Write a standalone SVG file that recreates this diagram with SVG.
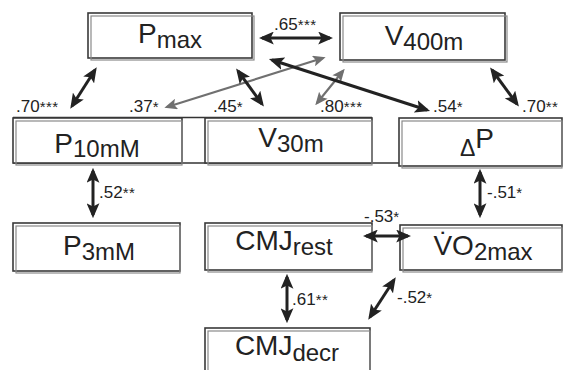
<svg xmlns="http://www.w3.org/2000/svg" width="565" height="370" viewBox="0 0 565 370">
<style>
  .box-o { fill: #fff; stroke: #3a3a3a; stroke-width: 1.6; }
  .box-i { fill: none; stroke: #8a8a8a; stroke-width: 1.2; }
  .lbl { font-family: "Liberation Sans", Arial, sans-serif; font-size: 28px; fill: #222; }
  .sub { font-size: 24px; }
  .r { font-family: "Liberation Sans", Arial, sans-serif; font-size: 17px; fill: #222; }
  .st { font-size: 15px; letter-spacing: 0.5px; }
  .dk { stroke: #222; stroke-width: 3; fill: none; marker-start: url(#hd); marker-end: url(#hd); }
  .gy { stroke: #707070; stroke-width: 2.2; fill: none; marker-start: url(#hg); marker-end: url(#hg); }
  .rule { stroke: #333; stroke-width: 1.4; }
</style>
<defs>
  <marker id="hd" viewBox="0 0 14 12" refX="11" refY="6" markerWidth="15" markerHeight="13" markerUnits="userSpaceOnUse" orient="auto-start-reverse">
    <path d="M0,0 L14,6 L0,12 L3,6 z" fill="#222"/>
  </marker>
  <marker id="hg" viewBox="0 0 14 12" refX="11" refY="6" markerWidth="13" markerHeight="11" markerUnits="userSpaceOnUse" orient="auto-start-reverse">
    <path d="M0,0 L14,6 L0,12 L3,6 z" fill="#707070"/>
  </marker>
</defs>
<rect width="565" height="370" fill="#fff"/>

<g id="rules">
  <line class="rule" x1="13" y1="117.5" x2="372" y2="117.5"/>
  <line class="rule" x1="13" y1="163" x2="399" y2="163"/>
</g>

<g id="Pmax">
  <rect class="box-o" x="88" y="13" width="164" height="45"/>
  <rect class="box-i" x="91" y="16" width="163" height="44"/>
  <text class="lbl" x="170" y="43" text-anchor="middle">P<tspan class="sub" dy="5">max</tspan></text>
</g>
<g id="V400m">
  <rect class="box-o" x="340" y="13" width="165" height="47"/>
  <rect class="box-i" x="343" y="16" width="164" height="46"/>
  <text class="lbl" x="424" y="45" text-anchor="middle">V<tspan class="sub" dy="5">400m</tspan></text>
</g>
<g id="P10mM">
  <rect class="box-o" x="13" y="118" width="169" height="45"/>
  <rect class="box-i" x="16" y="121" width="166" height="44"/>
  <text class="lbl" x="97" y="153" text-anchor="middle">P<tspan class="sub" dy="4">10mM</tspan></text>
</g>
<g id="V30m">
  <rect class="box-o" x="205" y="118" width="167" height="45"/>
  <rect class="box-i" x="208" y="121" width="164" height="44"/>
  <text class="lbl" x="291" y="147" text-anchor="middle">V<tspan class="sub" dy="5">30m</tspan></text>
</g>
<g id="dP">
  <rect class="box-o" x="399" y="118" width="163" height="48"/>
  <rect class="box-i" x="402" y="121" width="160" height="47"/>
  <text class="lbl" x="477" y="156" text-anchor="middle"><tspan font-size="23">Δ</tspan><tspan dy="-8">P</tspan></text>
</g>
<g id="P3mM">
  <rect class="box-o" x="13" y="223" width="167" height="48"/>
  <rect class="box-i" x="16" y="226" width="164" height="47"/>
  <text class="lbl" x="99" y="255" text-anchor="middle">P<tspan class="sub" dy="5">3mM</tspan></text>
</g>
<g id="CMJrest">
  <rect class="box-o" x="205" y="223" width="167" height="47"/>
  <rect class="box-i" x="208" y="226" width="164" height="46"/>
  <text class="lbl" x="284" y="250" text-anchor="middle">CMJ<tspan class="sub" dy="5">rest</tspan></text>
</g>
<g id="VO2max">
  <rect class="box-o" x="400" y="225" width="162" height="45"/>
  <rect class="box-i" x="403" y="228" width="159" height="44"/>
  <text class="lbl" x="483" y="255" text-anchor="middle">V̇O<tspan class="sub" dy="5">2max</tspan></text>
</g>
<g id="CMJdecr">
  <rect class="box-o" x="205" y="328" width="165" height="50"/>
  <rect class="box-i" x="208" y="331" width="162" height="49"/>
  <text class="lbl" x="287" y="355" text-anchor="middle">CMJ<tspan class="sub" dy="6">decr</tspan></text>
</g>

<g id="connectors">
  <line class="dk" x1="262" y1="38" x2="330" y2="38"/>
  <line class="dk" x1="95" y1="70" x2="72" y2="106"/>
  <line class="gy" x1="167" y1="107" x2="323" y2="58"/>
  <line class="dk" x1="238" y1="71" x2="262" y2="104"/>
  <line class="gy" x1="343" y1="71" x2="317" y2="103"/>
  <line class="dk" x1="272" y1="60" x2="427" y2="110"/>
  <line class="dk" x1="492" y1="70" x2="517" y2="104"/>
  <line class="dk" x1="93" y1="171" x2="93" y2="215"/>
  <line class="dk" x1="480" y1="172" x2="480" y2="215"/>
  <line class="dk" x1="366" y1="236" x2="408" y2="236"/>
  <line class="dk" x1="287" y1="277" x2="287" y2="320"/>
  <line class="dk" x1="394" y1="280" x2="370" y2="317"/>
</g>

<g id="labels">
  <text class="r" x="274" y="30">.65<tspan class="st">***</tspan></text>
  <text class="r" x="16" y="112">.70<tspan class="st">***</tspan></text>
  <text class="r" x="129" y="112">.37<tspan class="st">*</tspan></text>
  <text class="r" x="213" y="112">.45<tspan class="st">*</tspan></text>
  <text class="r" x="320" y="112">.80<tspan class="st">***</tspan></text>
  <text class="r" x="433" y="112">.54<tspan class="st">*</tspan></text>
  <text class="r" x="522" y="112">.70<tspan class="st">**</tspan></text>
  <text class="r" x="99" y="198">.52<tspan class="st">**</tspan></text>
  <text class="r" x="487" y="198">-.51<tspan class="st">*</tspan></text>
  <text class="r" x="364" y="222">-.53<tspan class="st">*</tspan></text>
  <text class="r" x="292" y="305">.61<tspan class="st">**</tspan></text>
  <text class="r" x="397" y="303">-.52<tspan class="st">*</tspan></text>
</g>
</svg>
